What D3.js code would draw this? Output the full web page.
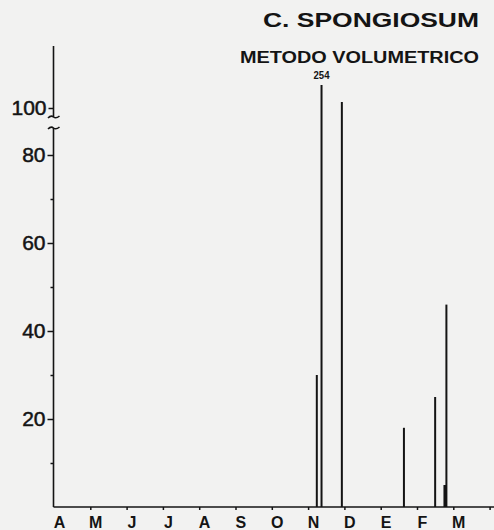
<!DOCTYPE html>
<html>
<head>
<meta charset="utf-8">
<script src="https://cdn.jsdelivr.net/npm/d3@7"></script>
<style>
    body { margin: 0; background: #f2f2f1; }
    svg { display: block; }
    text { font-family: "Liberation Sans", Arial, Helvetica, sans-serif; fill: #141414; }
</style>
</head>
<body>
<script>
"use strict";
// month labels, April to March
const monthLabels = ["A", "M", "J", "J", "A", "S", "O", "N", "D", "E", "F", "M"]
// sampling time, in months since 1 April
const sampleMonth = [7.24, 7.37, 7.93, 9.64, 10.50, 10.77, 10.81]
// volume values
const volume = [30, 254, 140, 18, 25, 5, 46]
const majorTicks = [20, 40, 60, 80]
const minorTicks = [10, 30, 50, 70]
const breakTick = 100
const maxLabel = "254"

const measurements = { width: 494, height: 530 }
const ink = "#141414"

const svg = d3.select("body").append("svg")
    .attr("width", measurements.width)
    .attr("height", measurements.height)

// x: months drawn with equal width
const scaleX = d3.scaleLinear().domain([0, 12]).range([54, 489.6])
// y: lower part linear up to the break, upper part compressed
const scaleYLow = d3.scaleLinear().domain([0, 80]).range([507, 155])
const scaleYHigh = d3.scaleLinear().domain([100, 254]).range([108, 85])
const yOf = (v) => v <= 86 ? scaleYLow(v) : scaleYHigh(v)

// titles
svg.append("text")
    .attr("x", 263).attr("y", 27)
    .attr("textLength", 216).attr("lengthAdjust", "spacingAndGlyphs")
    .attr("font-size", 20).attr("font-weight", "bold")
    .text("C. SPONGIOSUM")
svg.append("text")
    .attr("x", 240).attr("y", 63)
    .attr("textLength", 239).attr("lengthAdjust", "spacingAndGlyphs")
    .attr("font-size", 16).attr("font-weight", "bold")
    .text("METODO VOLUMETRICO")

// y axis lines with the break
const axisG = svg.append("g").attr("stroke", ink).attr("stroke-width", 1.6).attr("fill", "none")
axisG.append("line").attr("x1", 53.5).attr("x2", 53.5).attr("y1", 46).attr("y2", 117)
axisG.append("line").attr("x1", 53.5).attr("x2", 53.5).attr("y1", 128).attr("y2", scaleYLow(0))
axisG.append("path").attr("d", "M48,118 q3,-3 5.5,-1 t6,-1")
axisG.append("path").attr("d", "M48,129 q3,-3 5.5,-1 t6,-1")
// x axis line
axisG.append("line").attr("x1", 53.5).attr("x2", 494).attr("y1", scaleYLow(0)).attr("y2", scaleYLow(0))

// major y ticks with labels
const yAxisMajor = d3.axisLeft(scaleYLow).tickValues(majorTicks).tickSize(6).tickPadding(2).tickSizeOuter(0)
const gMajor = svg.append("g").attr("transform", "translate(53.5,0)").call(yAxisMajor)
gMajor.select(".domain").remove()
gMajor.selectAll("line").attr("stroke", ink).attr("stroke-width", 1.5)
gMajor.selectAll("text").attr("font-size", 21).attr("fill", ink)
    .attr("stroke", ink).attr("stroke-width", 0.5)
    .attr("font-family", "'Liberation Sans', Arial, sans-serif")

// minor y ticks
const yAxisMinor = d3.axisLeft(scaleYLow).tickValues(minorTicks).tickSize(3).tickFormat("").tickSizeOuter(0)
const gMinor = svg.append("g").attr("transform", "translate(53.5,0)").call(yAxisMinor)
gMinor.select(".domain").remove()
gMinor.selectAll("line").attr("stroke", ink).attr("stroke-width", 1.5)

// tick at 100 on the upper part
const yAxisHigh = d3.axisLeft(scaleYHigh).tickValues([breakTick]).tickSize(5).tickPadding(2).tickSizeOuter(0)
const gHigh = svg.append("g").attr("transform", "translate(53.5,0)").call(yAxisHigh)
gHigh.select(".domain").remove()
gHigh.selectAll("line").attr("stroke", ink).attr("stroke-width", 1.5)
gHigh.selectAll("text").attr("font-size", 21).attr("fill", ink)
    .attr("stroke", ink).attr("stroke-width", 0.5)
    .attr("font-family", "'Liberation Sans', Arial, sans-serif")

// x ticks at month starts, labels just right of them
const xAxis = d3.axisBottom(scaleX).tickValues(d3.range(1, 13)).tickSize(3).tickFormat("").tickSizeOuter(0)
const gX = svg.append("g").attr("transform", `translate(0,${scaleYLow(0)})`).call(xAxis)
gX.select(".domain").remove()
gX.selectAll("line").attr("stroke", ink).attr("stroke-width", 1.5)

svg.append("g").selectAll("text")
    .data(monthLabels)
    .enter()
    .append("text")
        .attr("x", (d, i) => scaleX(i + 0.15))
        .attr("y", 527.5)
        .attr("text-anchor", "middle")
        .attr("font-size", 16)
        .attr("font-weight", "bold")
        .text((d) => d)

// spikes
svg.append("g").selectAll("line")
    .data(volume)
    .enter()
    .append("line")
        .attr("x1", (d, i) => scaleX(sampleMonth[i]))
        .attr("x2", (d, i) => scaleX(sampleMonth[i]))
        .attr("y1", scaleYLow(0))
        .attr("y2", (d) => yOf(d))
        .attr("stroke", ink)
        .attr("stroke-width", (d) => d < 10 ? 3 : 2)

// label on the clipped maximum
const maxIndex = volume.indexOf(d3.max(volume))
svg.append("text")
    .attr("x", scaleX(sampleMonth[maxIndex]))
    .attr("y", yOf(volume[maxIndex]) - 6)
    .attr("text-anchor", "middle")
    .attr("font-size", 11)
    .attr("font-weight", "bold")
    .attr("textLength", 16)
    .attr("lengthAdjust", "spacingAndGlyphs")
    .text(maxLabel)
</script>
</body>
</html>
